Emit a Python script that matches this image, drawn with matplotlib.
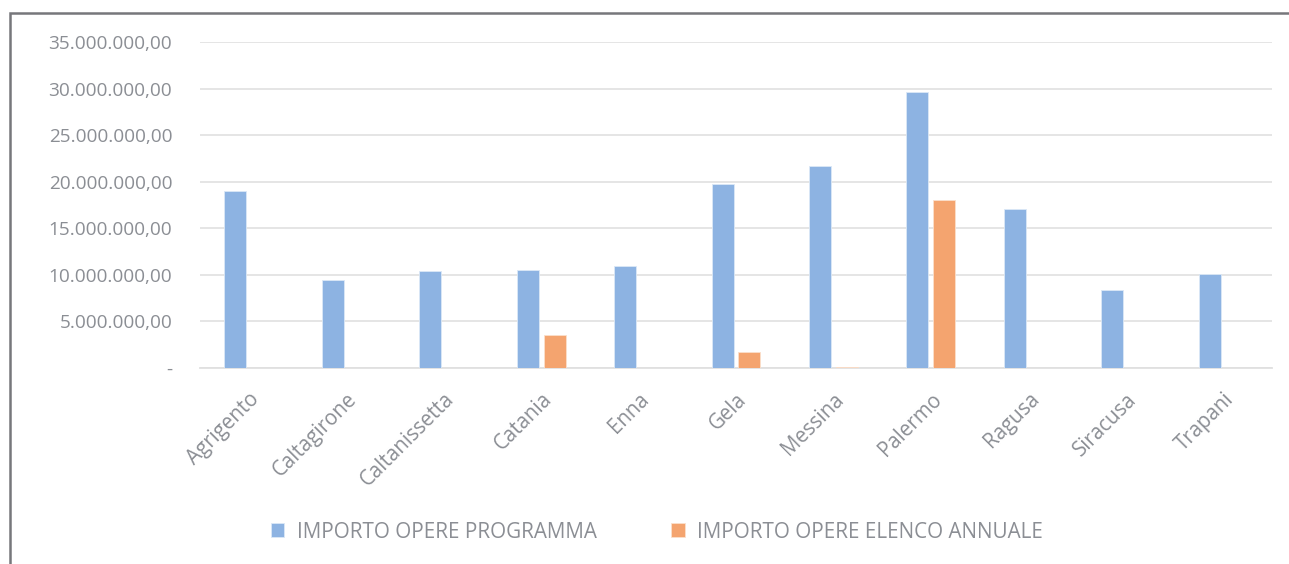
import matplotlib
matplotlib.use("Agg")
import matplotlib.pyplot as plt
from matplotlib.patches import Rectangle
from matplotlib.ticker import FuncFormatter
import numpy as np

cities = ["Agrigento", "Caltagirone", "Caltanissetta", "Catania", "Enna", "Gela",
          "Messina", "Palermo", "Ragusa", "Siracusa", "Trapani"]
programma = [19.0e6, 9.4e6, 10.4e6, 10.55e6, 10.95e6, 19.75e6, 21.7e6, 29.65e6, 17.05e6, 8.4e6, 10.1e6]
annuale = [0, 0, 0, 3.55e6, 0, 1.7e6, 0.15e6, 18.0e6, 0, 0, 0]

blue = "#8db3e2"
orange = "#f4a46f"
txt = "#8b8e94"

plt.rcParams['font.family'] = ['Open Sans', 'DejaVu Sans']

fig = plt.figure(figsize=(12.89, 5.64), dpi=100)
ax = fig.add_axes([200/1289, 1-368/564, 1072/1289, 326/564])

x = np.arange(len(cities))
w = 0.226
off = 0.138
ax.bar(x - off, programma, w, color=blue, edgecolor="#dbe8f6", linewidth=0.6,
       label="IMPORTO OPERE PROGRAMMA", zorder=3)
ax.bar(x + off, annuale, w, color=orange, edgecolor="#fbe0cc", linewidth=0.6,
       label="IMPORTO OPERE ELENCO ANNUALE", zorder=3)

ax.set_xlim(-0.5, len(cities) - 0.5)
ax.set_ylim(0, 35e6)
ax.set_yticks(np.arange(0, 35e6 + 1, 5e6))

def fmt(v, pos):
    if v == 0:
        return "-"
    s = f"{v:,.2f}"
    return s.replace(",", "X").replace(".", ",").replace("X", ".")

ax.yaxis.set_major_formatter(FuncFormatter(fmt))
ax.grid(axis="y", color="#e3e3e3", linewidth=1.3, zorder=0)
for s in ["top", "right", "left"]:
    ax.spines[s].set_visible(False)
ax.spines["bottom"].set_color("#e0e0e0")
ax.spines["bottom"].set_linewidth(1.3)
ax.tick_params(axis="both", length=0, colors=txt)
ax.tick_params(axis="y", pad=20, labelsize=13.7)
ax.set_xticks(x)
ax.set_xticklabels(cities, rotation=45, ha="right", rotation_mode="anchor")
ax.tick_params(axis="x", pad=15, labelsize=14.8)

fig.legend(loc="center", bbox_to_anchor=(657/1289, 1-532/564), ncol=2, frameon=False,
           fontsize=14.9, labelcolor=txt, handlelength=0.65, handleheight=0.65,
           columnspacing=3.6, handletextpad=0.6)

fig.patches.append(Rectangle((10/1289, -0.1), 1.2, 1-13/564 + 0.1, transform=fig.transFigure,
                             fill=False, edgecolor="#76777b", linewidth=1.8))

fig.savefig("out.png", dpi=100)
